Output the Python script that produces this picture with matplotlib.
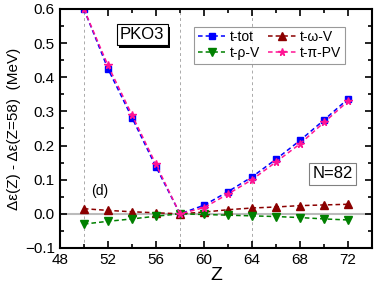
import matplotlib.pyplot as plt
from matplotlib.ticker import MultipleLocator
import matplotlib.patheffects as pe

plt.rcParams['font.family'] = ['Liberation Sans', 'DejaVu Sans']

Z = [50, 52, 54, 56, 58, 60, 62, 64, 66, 68, 70, 72]
t_tot = [0.600, 0.425, 0.282, 0.138, 0.000, 0.025, 0.065, 0.108, 0.160, 0.215, 0.275, 0.337]
t_omega = [0.015, 0.010, 0.006, 0.003, 0.000, 0.005, 0.012, 0.017, 0.020, 0.024, 0.026, 0.028]
t_rho = [-0.030, -0.022, -0.015, -0.007, 0.000, -0.002, -0.004, -0.006, -0.008, -0.011, -0.015, -0.018]
t_pi = [0.600, 0.435, 0.290, 0.145, 0.000, 0.018, 0.058, 0.100, 0.152, 0.205, 0.268, 0.330]

fig = plt.figure(figsize=(3.74, 2.9), dpi=100)
ax = fig.add_axes([0.16, 0.145, 0.835, 0.824])

# guide lines
for xv in [50, 58, 64]:
    ax.axvline(xv, color='#aaaaaa', ls=(0, (3, 3)), lw=0.7, zorder=0)
ax.axhline(0, color='#bbbbbb', lw=1.5, zorder=0)

dash = (0, (3, 2))
l_tot, = ax.plot(Z, t_tot, color='blue', ls=dash, marker='s', ms=4.5, lw=1.1, label='t-tot')
l_om, = ax.plot(Z, t_omega, color='#8b0000', ls=dash, marker='^', ms=5.5, lw=1.1, label='t-ω-V')
l_rho, = ax.plot(Z, t_rho, color='#008000', ls=dash, marker='v', ms=5.5, lw=1.1, label='t-ρ-V')
l_pi, = ax.plot(Z, t_pi, color='#ff1493', ls=dash, marker='*', ms=5.5, lw=1.1, label='t-π-PV')

ax.set_xlim(48, 74)
ax.set_ylim(-0.1, 0.6)
ax.set_xticks([48, 52, 56, 60, 64, 68, 72])
ax.xaxis.set_minor_locator(MultipleLocator(2))
ax.set_yticks([-0.1, 0.0, 0.1, 0.2, 0.3, 0.4, 0.5, 0.6])
ax.yaxis.set_minor_locator(MultipleLocator(0.05))
ax.tick_params(which='both', direction='in', top=True, right=True, labelsize=11, width=1.2)
ax.tick_params(which='major', length=5)
ax.tick_params(which='minor', length=3)
for s in ax.spines.values():
    s.set_linewidth(1.5)

ax.set_xlabel('Z', fontsize=14, labelpad=0)
ax.set_ylabel('Δε(Z) - Δε(Z=58)  (MeV)', fontsize=11, labelpad=3)

leg = ax.legend([l_tot, l_rho, l_om, l_pi], ['t-tot', 't-ρ-V', 't-ω-V', 't-π-PV'],
                ncol=2, loc='upper right', bbox_to_anchor=(0.935, 0.955), fontsize=10,
                handlelength=2.0, handletextpad=0.3, columnspacing=0.6, numpoints=1,
                borderpad=0.25, labelspacing=0.15, fancybox=False, edgecolor='gray')
leg.get_frame().set_linewidth(0.8)

ax.text(53.0, 0.525, 'PKO3', fontsize=12, ha='left', va='center',
        bbox=dict(boxstyle='square,pad=0.2', fc='white', ec='black', lw=0.8,
                  path_effects=[pe.withSimplePatchShadow(offset=(2, -2), shadow_rgbFace='black', alpha=1)]))
ax.text(70.7, 0.117, 'N=82', fontsize=12, ha='center', va='center',
        bbox=dict(boxstyle='square,pad=0.2', fc='white', ec='gray', lw=0.8))
ax.text(50.6, 0.068, '(d)', fontsize=10, ha='left', va='center')

fig.savefig('out.png', dpi=100)
